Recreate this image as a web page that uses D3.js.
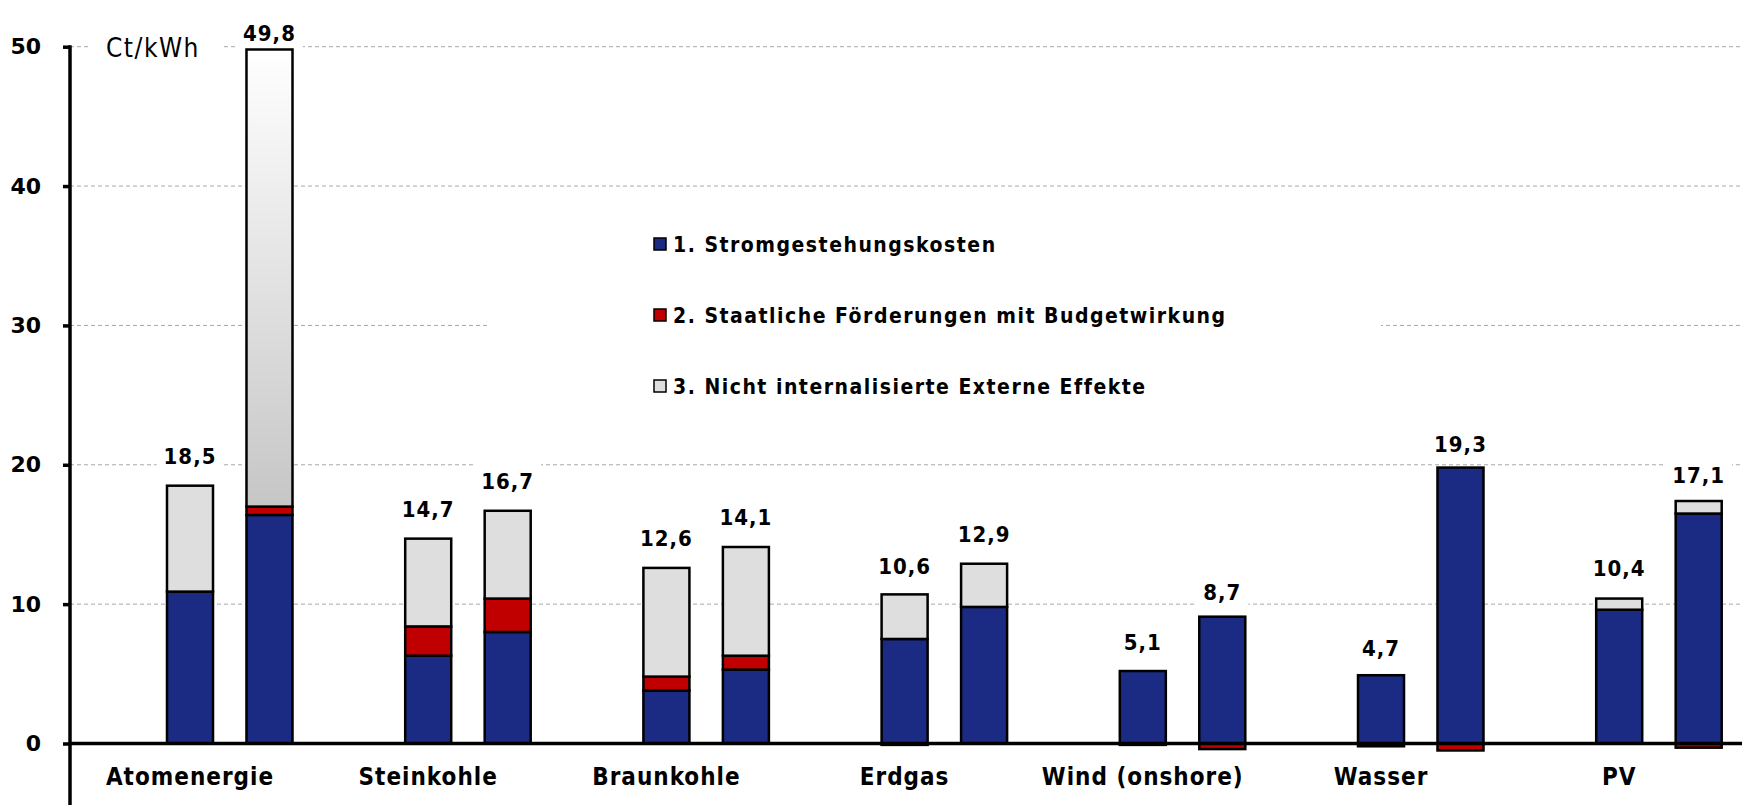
<!DOCTYPE html>
<html>
<head>
<meta charset="utf-8">
<script src="https://cdn.jsdelivr.net/npm/d3@7"></script>
<style>
  body { margin: 0; background: #fff; }
  text { font-family: "DejaVu Sans Condensed", "DejaVu Sans", sans-serif; fill: #000; }
  .grid line { stroke: #a8a8a8; stroke-width: 1; stroke-dasharray: 4,3; }
  .bar rect { stroke: #000; stroke-width: 2.5; }
</style>
</head>
<body>
<script>
// categories on the x axis, two bars each
var categories = ["Atomenergie", "Steinkohle", "Braunkohle", "Erdgas", "Wind (onshore)", "Wasser", "PV"];
var seriesNames = ["1. Stromgestehungskosten", "2. Staatliche Förderungen mit Budgetwirkung", "3. Nicht internalisierte Externe Effekte"];

// left bar of each pair (Ct/kWh)
var kosten1  = [10.9, 6.3, 3.8, 7.5, 5.2, 4.9, 9.6];
var foerder1 = [0, 2.1, 1.0, -0.1, -0.1, -0.2, 0];
var extern1  = [7.6, 6.3, 7.8, 3.2, 0, 0, 0.8];
var total1   = [18.5, 14.7, 12.6, 10.6, 5.1, 4.7, 10.4];

// right bar of each pair
var kosten2  = [16.4, 8.0, 5.3, 9.8, 9.1, 19.8, 16.5];
var foerder2 = [0.6, 2.4, 1.0, 0, -0.4, -0.5, -0.3];
var extern2  = [32.8, 6.3, 7.8, 3.1, 0, 0, 0.9];
var total2   = [49.8, 16.7, 14.1, 12.9, 8.7, 19.3, 17.1];

var yTicks = [0, 10, 20, 30, 40, 50];
var unit = "Ct/kWh";

var W = 1742, H = 805;
var colors = ["#1b2a82", "#c00000", "#dedede"];
var keys = ["k", "f", "e"];

var svg = d3.select("body").append("svg")
    .attr("width", W)
    .attr("height", H);

// gradient for the tall grey segment
var grad = svg.append("defs").append("linearGradient")
    .attr("id", "greyfade")
    .attr("x1", 0).attr("y1", 0).attr("x2", 0).attr("y2", 1);
grad.append("stop").attr("offset", "0%").attr("stop-color", "#ffffff");
grad.append("stop").attr("offset", "100%").attr("stop-color", "#c6c6c6");

var y = d3.scaleLinear().domain([0, 50]).range([743.5, 46.7]);

var x = d3.scaleBand().domain(categories).range([70, 70 + 7 * 238.2]);   // one band per category
var xi = d3.scaleBand().domain([0, 1]).range([97, 97 + 125.5]).paddingInner(0.421);  // the two bars inside a band

// one row per bar
var rows = [];
categories.forEach(function(c, i) {
  rows.push({cat: c, b: 0, k: kosten1[i], f: foerder1[i], e: extern1[i], total: total1[i]});
  rows.push({cat: c, b: 1, k: kosten2[i], f: foerder2[i], e: extern2[i], total: total2[i]});
});

var stack = d3.stack().keys(keys).offset(d3.stackOffsetDiverging);
var layers = stack(rows);

// gridlines
svg.append("g").attr("class", "grid")
  .selectAll("line")
  .data(yTicks.filter(function(d) { return d > 0; }))
  .enter().append("line")
    .attr("x1", 70).attr("x2", W)
    .attr("y1", function(d) { return y(d); })
    .attr("y2", function(d) { return y(d); });

// unit label with white box over the gridline
var unitG = svg.append("g");
unitG.append("rect").attr("x", 88).attr("y", y(50) - 17).attr("width", 136).attr("height", 34).attr("fill", "#fff");
unitG.append("text")
    .attr("x", 106).attr("y", y(50) + 1)
    .attr("dy", "0.36em")
    .style("font-size", "26px")
    .style("letter-spacing", "1.5px")
    .text(unit);

// legend box
svg.append("rect").attr("x", 487).attr("y", 200).attr("width", 894).attr("height", 240).attr("fill", "#fff");

var legend = svg.append("g").selectAll("g")
    .data(seriesNames)
  .enter().append("g")
    .attr("transform", function(d, i) { return "translate(654," + (244 + i * 71) + ")"; });
legend.append("rect")
    .attr("x", 0).attr("y", -6).attr("width", 12).attr("height", 12)
    .attr("fill", function(d, i) { return colors[i]; })
    .attr("stroke", "#000").attr("stroke-width", 1.5);
legend.append("text")
    .attr("x", 19).attr("dy", "0.36em")
    .style("font-size", "21px")
    .style("font-weight", "bold")
    .style("letter-spacing", "1.5px")
    .text(String);

// value labels with white backgrounds
function fmt(v) { return d3.format(".1f")(v).replace(".", ","); }
function labelY(d) { return Math.max(y(d.total) - 30, 33); }

var lab = svg.append("g").selectAll("g")
    .data(rows)
  .enter().append("g")
    .attr("transform", function(d) { return "translate(" + (x(d.cat) + xi(d.b) + xi.bandwidth() / 2) + "," + labelY(d) + ")"; });
lab.append("text")
    .attr("text-anchor", "middle")
    .attr("dy", "0.36em")
    .style("font-size", "22px")
    .style("font-weight", "bold")
    .style("letter-spacing", "1px")
    .text(function(d) { return fmt(d.total); });
lab.insert("rect", "text")
    .attr("fill", "#fff")
    .each(function() {
      var bb = this.parentNode.querySelector("text").getBBox();
      d3.select(this).attr("x", bb.x - 7).attr("y", -17).attr("width", bb.width + 14).attr("height", 34);
    });

// stacked bars
svg.append("g").selectAll("g")
    .data(layers)
  .enter().append("g")
    .attr("class", "bar")
    .attr("fill", function(d, i) { return colors[i]; })
  .selectAll("rect")
    .data(function(d) { return d; })
  .enter().append("rect")
    .attr("x", function(d) { return x(d.data.cat) + xi(d.data.b); })
    .attr("width", xi.bandwidth())
    .attr("y", function(d) { return y(Math.max(d[0], d[1])); })
    .attr("height", function(d) { return Math.abs(y(d[0]) - y(d[1])); })
    .attr("fill", function(d) {
      // the big grey block of the nuclear bar fades out upwards
      if (d.data.cat === "Atomenergie" && d.data.b === 1 && d[1] - d[0] > 20) return "url(#greyfade)";
      return null;
    });

// y axis
var yAxis = svg.append("g")
    .attr("transform", "translate(70,0)")
    .call(d3.axisLeft(y).tickValues(yTicks).tickSize(7).tickPadding(22).tickFormat(d3.format("d")));
yAxis.select(".domain").remove();
yAxis.selectAll(".tick line").attr("stroke", "#000").attr("stroke-width", 3.5);
yAxis.selectAll(".tick text")
    .style("font-size", "22px")
    .style("font-weight", "bold")
    .style("font-family", "\"DejaVu Sans\", sans-serif");
yAxis.append("line")
    .attr("x1", 0).attr("x2", 0)
    .attr("y1", y(50) - 1.5).attr("y2", H)
    .attr("stroke", "#000").attr("stroke-width", 3.5);

// x axis along zero
svg.append("line")
    .attr("x1", 70).attr("x2", W)
    .attr("y1", y(0)).attr("y2", y(0))
    .attr("stroke", "#000").attr("stroke-width", 3.5);

svg.append("g").selectAll("text")
    .data(categories)
  .enter().append("text")
    .attr("x", function(d) { return x(d) + xi(0) + xi.bandwidth() / 2; })
    .attr("y", 776)
    .attr("dy", "0.36em")
    .attr("text-anchor", "middle")
    .style("font-size", "24px")
    .style("font-weight", "bold")
    .style("letter-spacing", "1px")
    .text(String);
</script>
</body>
</html>
